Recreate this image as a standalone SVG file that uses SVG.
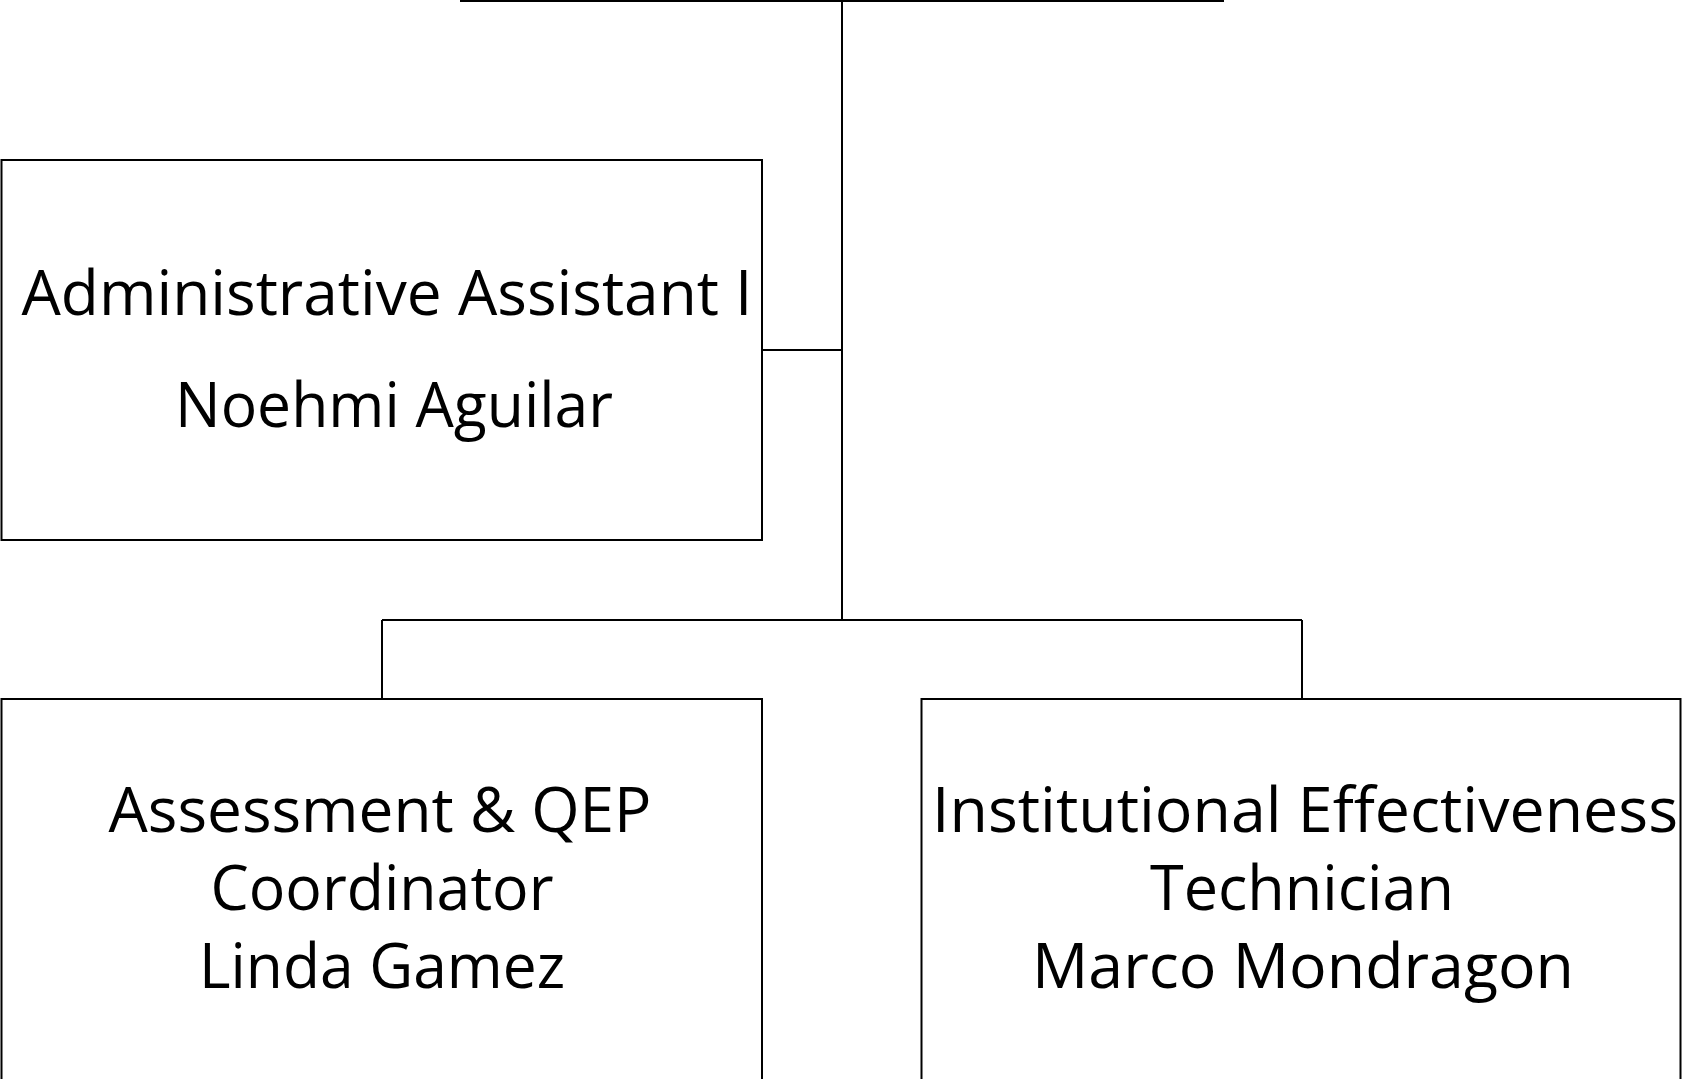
<svg xmlns="http://www.w3.org/2000/svg" width="1682" height="1079" viewBox="0 0 1682 1079">
<style>
.box{fill:#fff;stroke:#000;stroke-width:2}
.conn{fill:none;stroke:#000;stroke-width:2}
.t{font-family:"Open Sans","Noto Sans",sans-serif;font-size:63px;fill:#000;text-anchor:middle}
</style>
<rect width="1682" height="1079" fill="#fff"/>
<g id="connectors">
<path class="conn" d="M460 1 H1224" stroke-width="3"/>
<path class="conn" d="M842 0 V620"/>
<path class="conn" d="M762 350 H842"/>
<path class="conn" d="M382 620 H1302"/>
<path class="conn" d="M382 620 V699"/>
<path class="conn" d="M1302 620 V699"/>
</g>
<g id="admin-assistant">
<rect class="box" x="1.5" y="160" width="760.5" height="380"/>
<text class="t" x="387" y="315" textLength="731" lengthAdjust="spacingAndGlyphs">Administrative Assistant I</text>
<text class="t" x="394" y="427" textLength="438" lengthAdjust="spacingAndGlyphs">Noehmi Aguilar</text>
</g>
<g id="assessment-coordinator">
<rect class="box" x="1.5" y="699" width="760.5" height="400"/>
<text class="t" x="380" y="832" textLength="543" lengthAdjust="spacingAndGlyphs">Assessment &amp; QEP</text>
<text class="t" x="382" y="910" textLength="343" lengthAdjust="spacingAndGlyphs">Coordinator</text>
<text class="t" x="382" y="988" textLength="366" lengthAdjust="spacingAndGlyphs">Linda Gamez</text>
</g>
<g id="ie-technician">
<rect class="box" x="921.5" y="699" width="759" height="400"/>
<text class="t" x="1305" y="832" textLength="746" lengthAdjust="spacingAndGlyphs">Institutional Effectiveness</text>
<text class="t" x="1302" y="910" textLength="304" lengthAdjust="spacingAndGlyphs">Technician</text>
<text class="t" x="1303" y="988" textLength="542" lengthAdjust="spacingAndGlyphs">Marco Mondragon</text>
</g>
</svg>
